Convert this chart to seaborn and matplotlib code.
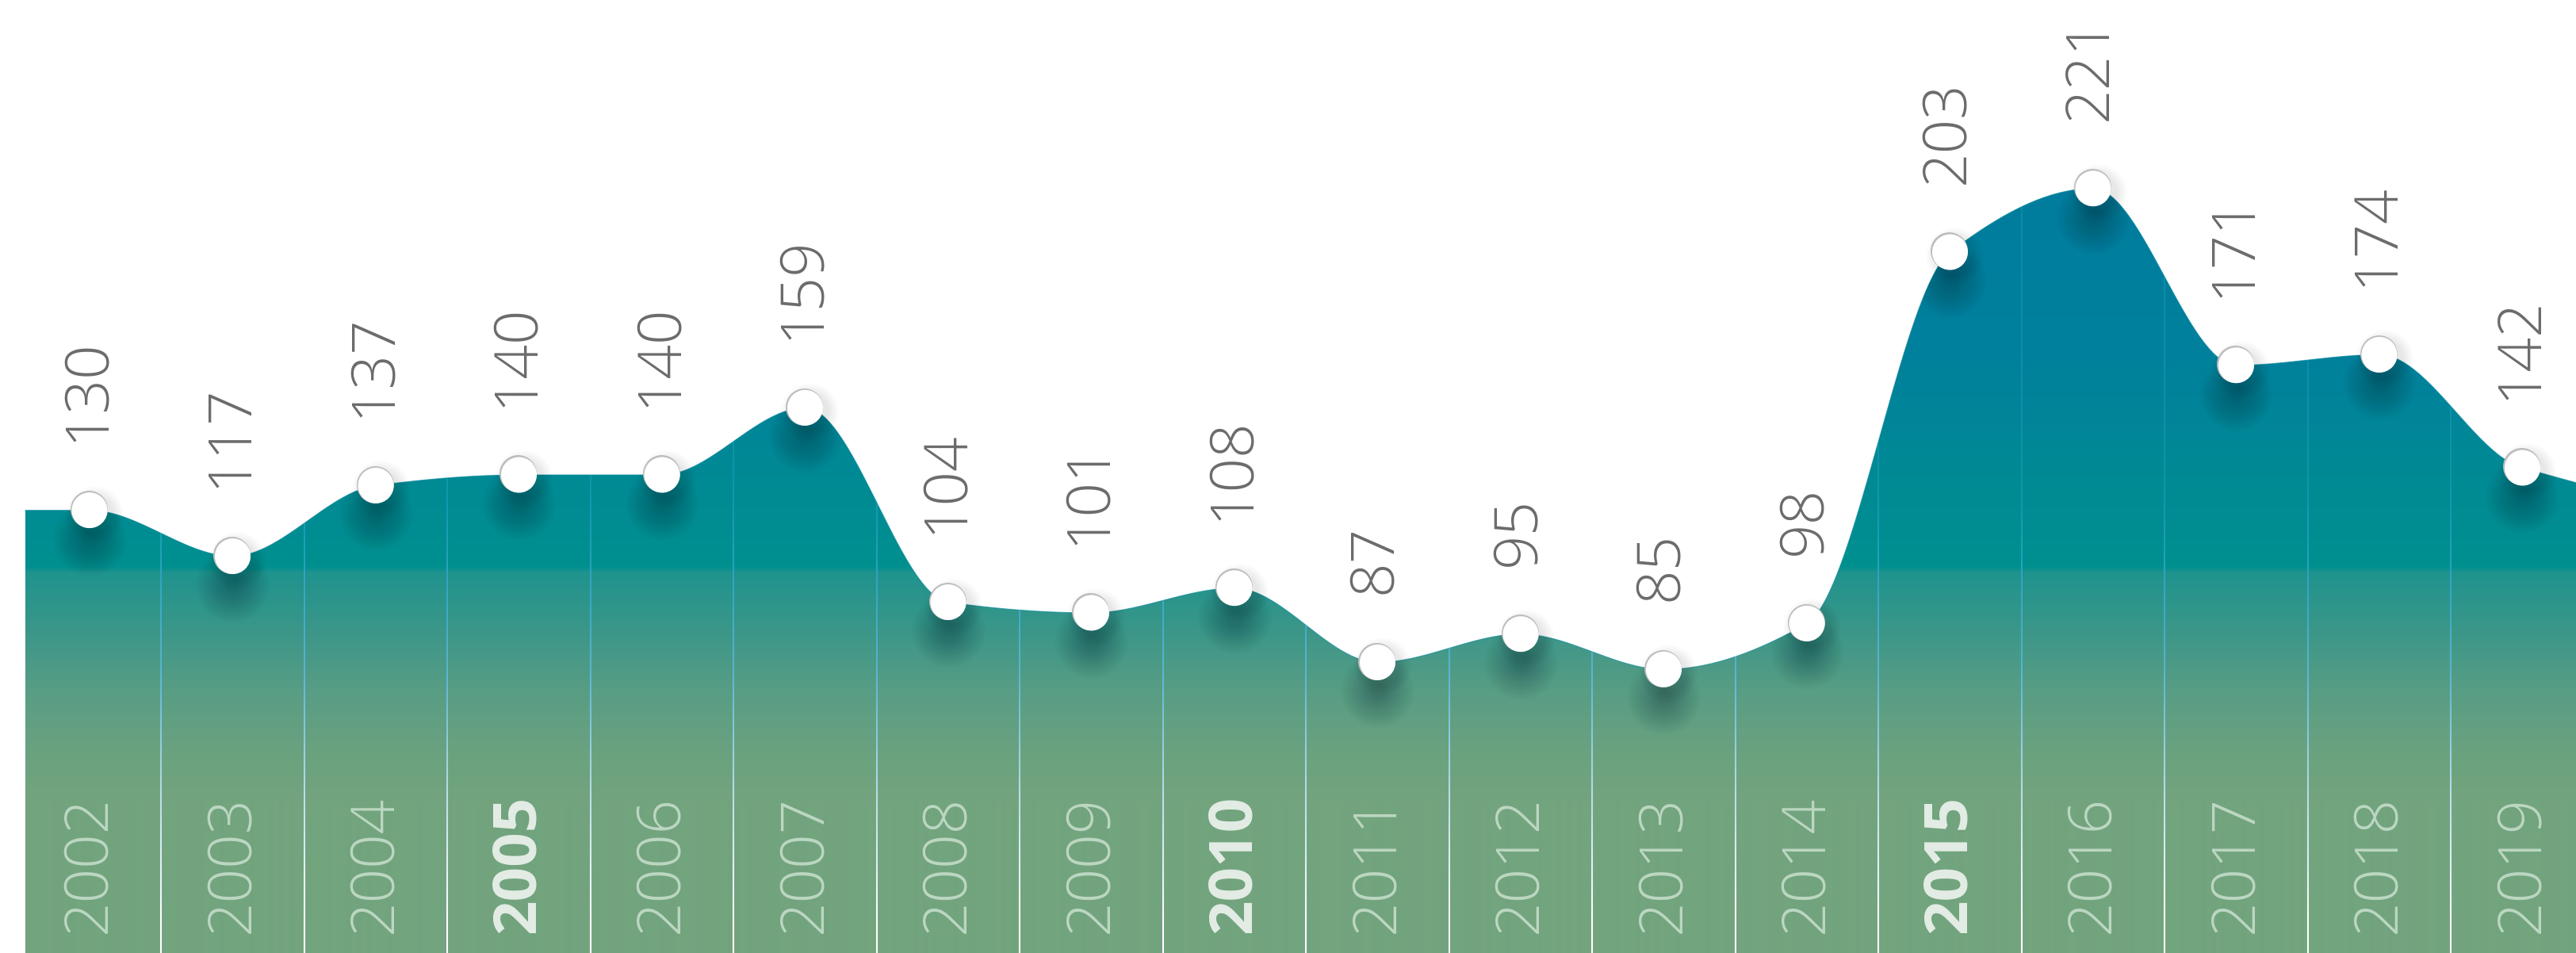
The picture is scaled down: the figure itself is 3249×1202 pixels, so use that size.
import numpy as np
import pandas as pd
import matplotlib
matplotlib.use("Agg")
import matplotlib.pyplot as plt
import matplotlib.transforms as mtransforms
from matplotlib.collections import LineCollection
from matplotlib.patches import PathPatch
from matplotlib.colors import to_rgba
from matplotlib.font_manager import FontProperties
import seaborn as sns

# ---------------- data ----------------
years = [2002, 2003, 2004, 2005, 2006, 2007, 2008, 2009, 2010,
         2011, 2012, 2013, 2014, 2015, 2016, 2017, 2018, 2019]
values = [130, 117, 137, 140, 140, 159, 104, 101, 108,
          87, 95, 85, 98, 203, 221, 171, 174, 142]
highlight_years = [2005, 2010, 2015]

# ---------------- style ----------------
sns.set_style("white")
plt.rcParams["font.family"] = ["Open Sans", "DejaVu Sans"]

light_fp = FontProperties(family=["Open Sans", "DejaVu Sans"], weight=300,
                          stretch="normal", size=55)
bold_fp = FontProperties(family=["Open Sans", "DejaVu Sans"],
                         weight=700, stretch="normal", size=55)

W, H, DPI = 3249, 1202, 100
fig = plt.figure(figsize=(W / DPI, H / DPI), dpi=DPI)
ax = fig.add_axes([0, 0, 1, 1])
ax.set_axis_off()

XLIM = (-0.626, 17.374)
YLIM = (4.8, 274.3)
AREA_START = -0.449

x = np.arange(len(years), dtype=float)
y = np.array(values, dtype=float)


def monotone_curve(xk, yk, xs, end_slope_right):
    h = np.diff(xk)
    d = np.diff(yk) / h
    m = np.zeros_like(yk)
    for k in range(1, len(yk) - 1):
        if d[k - 1] * d[k] > 0:
            w1 = 2 * h[k] + h[k - 1]
            w2 = h[k] + 2 * h[k - 1]
            m[k] = (w1 + w2) / (w1 / d[k - 1] + w2 / d[k])
    m[0] = 0.0
    m[-1] = end_slope_right
    out = np.empty_like(xs)
    for i, xv in enumerate(xs):
        if xv <= xk[0]:
            out[i] = yk[0]
        elif xv >= xk[-1]:
            out[i] = yk[-1] + m[-1] * (xv - xk[-1])
        else:
            k = min(np.searchsorted(xk, xv) - 1, len(xk) - 2)
            t = (xv - xk[k]) / h[k]
            h00 = 2 * t**3 - 3 * t**2 + 1
            h10 = t**3 - 2 * t**2 + t
            h01 = -2 * t**3 + 3 * t**2
            h11 = t**3 - t**2
            out[i] = (h00 * yk[k] + h10 * h[k] * m[k]
                      + h01 * yk[k + 1] + h11 * h[k] * m[k + 1])
    return out


xs = np.linspace(AREA_START, XLIM[1] + 0.05, 1600)
ys = monotone_curve(x, y, xs, end_slope_right=0.35 * (y[-1] - y[-2]))
curve = pd.DataFrame({"x": xs, "y": ys})

# area polygon (used as clip for the gradient and decorations)
poly = ax.fill_between(curve["x"], YLIM[0] - 20, curve["y"],
                       facecolor="none", edgecolor="none", zorder=0)
clip_patch = PathPatch(poly.get_paths()[0], transform=ax.transData,
                       facecolor="none", edgecolor="none")
ax.add_patch(clip_patch)

# ---------------- gradient fill ----------------
stops_px = [0, 250, 450, 580, 700, 714, 722, 800, 870, 950, 1010, 1202]
stops_col = ["#0079a0", "#007d9e", "#00819c", "#008996", "#008f90", "#00908f",
             "#1f938e", "#3d9789", "#589d85", "#6ba27f", "#72a47e", "#72a47e"]
rows = np.arange(H)
rgb = np.array([to_rgba(c)[:3] for c in stops_col])
grad = np.stack([np.interp(rows, stops_px, rgb[:, j]) for j in range(3)], axis=1)
img = np.repeat(grad[:, None, :], 4, axis=1)
im = ax.imshow(img, extent=[XLIM[0], XLIM[1], YLIM[0], YLIM[1]],
               aspect="auto", origin="upper", interpolation="bilinear", zorder=1)
im.set_clip_path(clip_patch)

sns.lineplot(data=curve, x="x", y="y", ax=ax, color="#00859a",
             linewidth=0.8, alpha=0.6, zorder=2, legend=False)

# ---------------- column separators (vertical gradient) ----------------
sep_px = [0, 600, 720, 850, 1000, 1160, 1202]
sep_col = [(0.13, 0.63, 0.76, 0.30), (0.13, 0.63, 0.76, 0.45),
           (0.19, 0.66, 0.80, 0.80), (0.35, 0.71, 0.83, 1.0),
           (0.72, 0.86, 0.91, 1.0), (1, 1, 1, 1), (1, 1, 1, 1)]
sep_col = np.array(sep_col)
seg_px = np.arange(0, H + 4, 4)
for sx in x[:-1] + 0.5:
    segs, cols = [], []
    for a, b in zip(seg_px[:-1], seg_px[1:]):
        segs.append([(sx, 1 - a / H), (sx, 1 - b / H)])
        mid = (a + b) / 2
        cols.append([np.interp(mid, sep_px, sep_col[:, j]) for j in range(4)])
    lc = LineCollection(segs, colors=cols, linewidths=1.5,
                        transform=ax.get_xaxis_transform(), zorder=3)
    ax.add_collection(lc)
    lc.set_clip_path(clip_patch)


def px_shift(dx, dy):
    return ax.transData + mtransforms.ScaledTranslation(dx / DPI, dy / DPI,
                                                        fig.dpi_scale_trans)

# ---------------- marker shadows ----------------
for r in np.linspace(46, 8, 14):
    sc = ax.scatter(x, y, s=(2 * r * 0.72) ** 2, color="#00222c", alpha=0.022,
                    linewidths=0, transform=px_shift(0, -36), zorder=4)
    sc.set_clip_path(clip_patch)

for r in np.linspace(36, 24, 6):
    ax.scatter(x, y, s=(2 * r * 0.72) ** 2, color="#000000", alpha=0.016,
               linewidths=0, transform=px_shift(6, -5), zorder=4.5)

# ---------------- markers ----------------
ax.scatter(x, y, s=(47 * 0.72) ** 2, color="#bdbdbd", linewidths=0,
           transform=px_shift(-1.2, 1.6), zorder=5)
pts = pd.DataFrame({"x": x, "y": y})
sns.scatterplot(data=pts, x="x", y="y", ax=ax, s=(45 * 0.72) ** 2,
                color="#ffffff", edgecolor="none", linewidth=0,
                zorder=6, legend=False)

# ---------------- value labels ----------------
for xi, v in zip(x, values):
    ax.annotate(str(v), (xi, v), xytext=(-2, 62), textcoords="offset points",
                rotation=90, ha="center", va="bottom", fontproperties=light_fp,
                color="#6b6b6b", zorder=7)

# ---------------- year labels ----------------
for xi, yr in zip(x, years):
    bold = yr in highlight_years
    ax.text(xi, 1 - 1090 / H, str(yr), transform=ax.get_xaxis_transform(),
            rotation=90, ha="center", va="center",
            fontproperties=bold_fp if bold else light_fp,
            color="#e3ece5" if bold else "#bcd7c2", zorder=7)

ax.set_xlim(*XLIM)
ax.set_ylim(*YLIM)
ax.set_xlabel("")
ax.set_ylabel("")
fig.savefig("out.png", dpi=DPI, facecolor="white")
